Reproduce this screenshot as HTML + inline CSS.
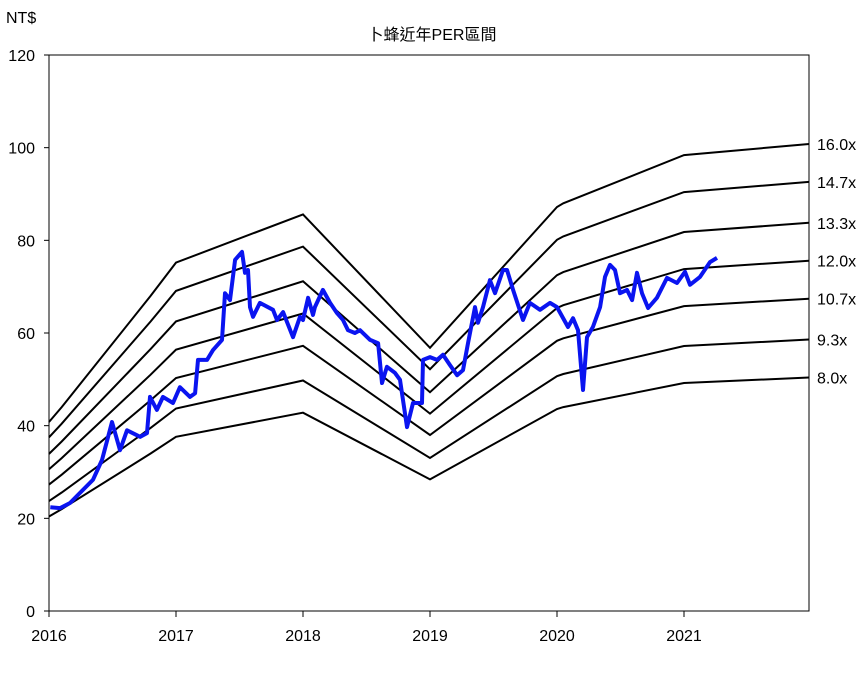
<!DOCTYPE html>
<html><head><meta charset="utf-8"><style>
body{margin:0;background:#fff;}
svg text{font-family:"Liberation Sans","Noto Sans CJK TC",sans-serif;font-size:16px;fill:#000;}
</style></head><body>
<svg id="chart" width="867" height="676" viewBox="0 0 867 676" xmlns="http://www.w3.org/2000/svg">
<text x="432" y="40" text-anchor="middle" font-size="17">卜蜂近年PER區間</text>
<text x="6" y="23" font-size="17">NT$</text>
<rect x="49" y="55" width="760" height="556" fill="none" stroke="#000" stroke-width="1"/>
<g id="axes"></g>
<g id="bands"></g>
<g id="price"></g>
</svg>
<script>
const yTicks=[0,20,40,60,80,100,120];
const xTicks=[2016,2017,2018,2019,2020,2021];
const epsYears=[2016.0,2016.1,2016.8,2017.0,2018.0,2019.0,2020.0,2020.05,2021.0,2021.984];
const epsValues=[2.55,2.75,4.25,4.7,5.35,3.55,5.45,5.5,6.15,6.3];
const multiples=[16.0,14.7,13.3,12.0,10.7,9.3,8.0];
const priceYears=[2016.01,2016.087,2016.165,2016.244,2016.346,2016.417,2016.496,2016.559,2016.614,2016.717,2016.772,2016.795,2016.85,2016.898,2016.976,2017.031,2017.11,2017.15,2017.173,2017.244,2017.291,2017.362,2017.386,2017.425,2017.465,2017.52,2017.543,2017.567,2017.583,2017.606,2017.661,2017.764,2017.795,2017.843,2017.921,2017.976,2018.0,2018.04,2018.079,2018.094,2018.157,2018.213,2018.268,2018.315,2018.354,2018.409,2018.449,2018.528,2018.591,2018.622,2018.661,2018.724,2018.764,2018.819,2018.866,2018.937,2018.945,2019.0,2019.055,2019.102,2019.157,2019.213,2019.26,2019.299,2019.354,2019.378,2019.417,2019.472,2019.512,2019.575,2019.606,2019.654,2019.732,2019.787,2019.866,2019.945,2020.0,2020.087,2020.126,2020.165,2020.205,2020.236,2020.283,2020.339,2020.378,2020.417,2020.457,2020.496,2020.551,2020.591,2020.63,2020.669,2020.717,2020.787,2020.866,2020.945,2021.008,2021.047,2021.126,2021.205,2021.26];
const priceValues=[22.4,22.2,23.3,25.5,28.3,32.6,40.8,34.7,39,37.6,38.4,46.2,43.4,46.2,44.9,48.3,46.2,47,54.2,54.2,56.3,58.5,68.6,67.1,75.8,77.5,73,73.6,65.6,63.5,66.5,65,62.8,64.5,59.1,63.5,62.8,67.6,63.9,65.6,69.3,66.5,64.3,62.8,60.6,60,60.6,58.5,57.8,49.2,52.7,51.4,49.9,39.7,44.9,44.9,54.2,54.8,54.2,55.3,53.1,50.9,52,57.8,65.6,62.2,65.6,71.4,68.6,73.6,73.6,69.3,62.8,66.5,65,66.5,65.6,61.3,63.2,60.6,47.7,59.1,61.3,65.6,72.1,74.7,73.6,68.6,69.3,67.1,73,68.6,65.4,67.6,71.9,70.8,73.2,70.4,72.1,75.3,76.2];

const X0=49,Y0=611,Y1=55;
const xs=y=>X0+(y-2016)*127;
const ys=v=>Y0-v*(Y0-Y1)/120;
const NS="http://www.w3.org/2000/svg";
function mk(tag,parent,attrs){const e=document.createElementNS(NS,tag);for(const k in attrs)e.setAttribute(k,attrs[k]);parent.appendChild(e);return e;}
const axes=document.getElementById('axes');
yTicks.forEach(v=>{
  const t=mk('line',axes,{x1:X0-5,x2:X0,y1:ys(v),y2:ys(v),stroke:'#000'});
  
  
  const l=mk('text',axes,{x:35,y:ys(v)+6,'text-anchor':'end'});
  l.textContent=v;
  
  
});
xTicks.forEach(v=>{
  const t=mk('line',axes,{x1:xs(v),x2:xs(v),y1:Y0,y2:Y0+6,stroke:'#000'});
  
  
  const l=mk('text',axes,{x:xs(v),y:641,'text-anchor':'middle'});
  l.textContent=v;
  
  
});
const bands=document.getElementById('bands');
multiples.forEach(m=>{
  const d=epsYears.map((y,i)=>(i?'L':'M')+xs(y).toFixed(1)+','+ys(epsValues[i]*m).toFixed(1)).join('');
  const p=mk('path',bands,{d:d,fill:'none',stroke:'#000','stroke-width':2});
  
  
  const l=mk('text',bands,{x:817,y:ys(epsValues[epsValues.length-1]*m)+6,'font-family':'Liberation Serif, serif','font-size':17});
  l.textContent=m.toFixed(1)+'x';
  
  
});
const pg=document.getElementById('price');
const pd=priceYears.map((y,i)=>(i?'L':'M')+xs(y).toFixed(1)+','+ys(priceValues[i]).toFixed(1)).join('');
const pl=mk('path',pg,{d:pd,fill:'none',stroke:'#0a14f0','stroke-width':4,'stroke-linejoin':'round'});


</script>
</body></html>
